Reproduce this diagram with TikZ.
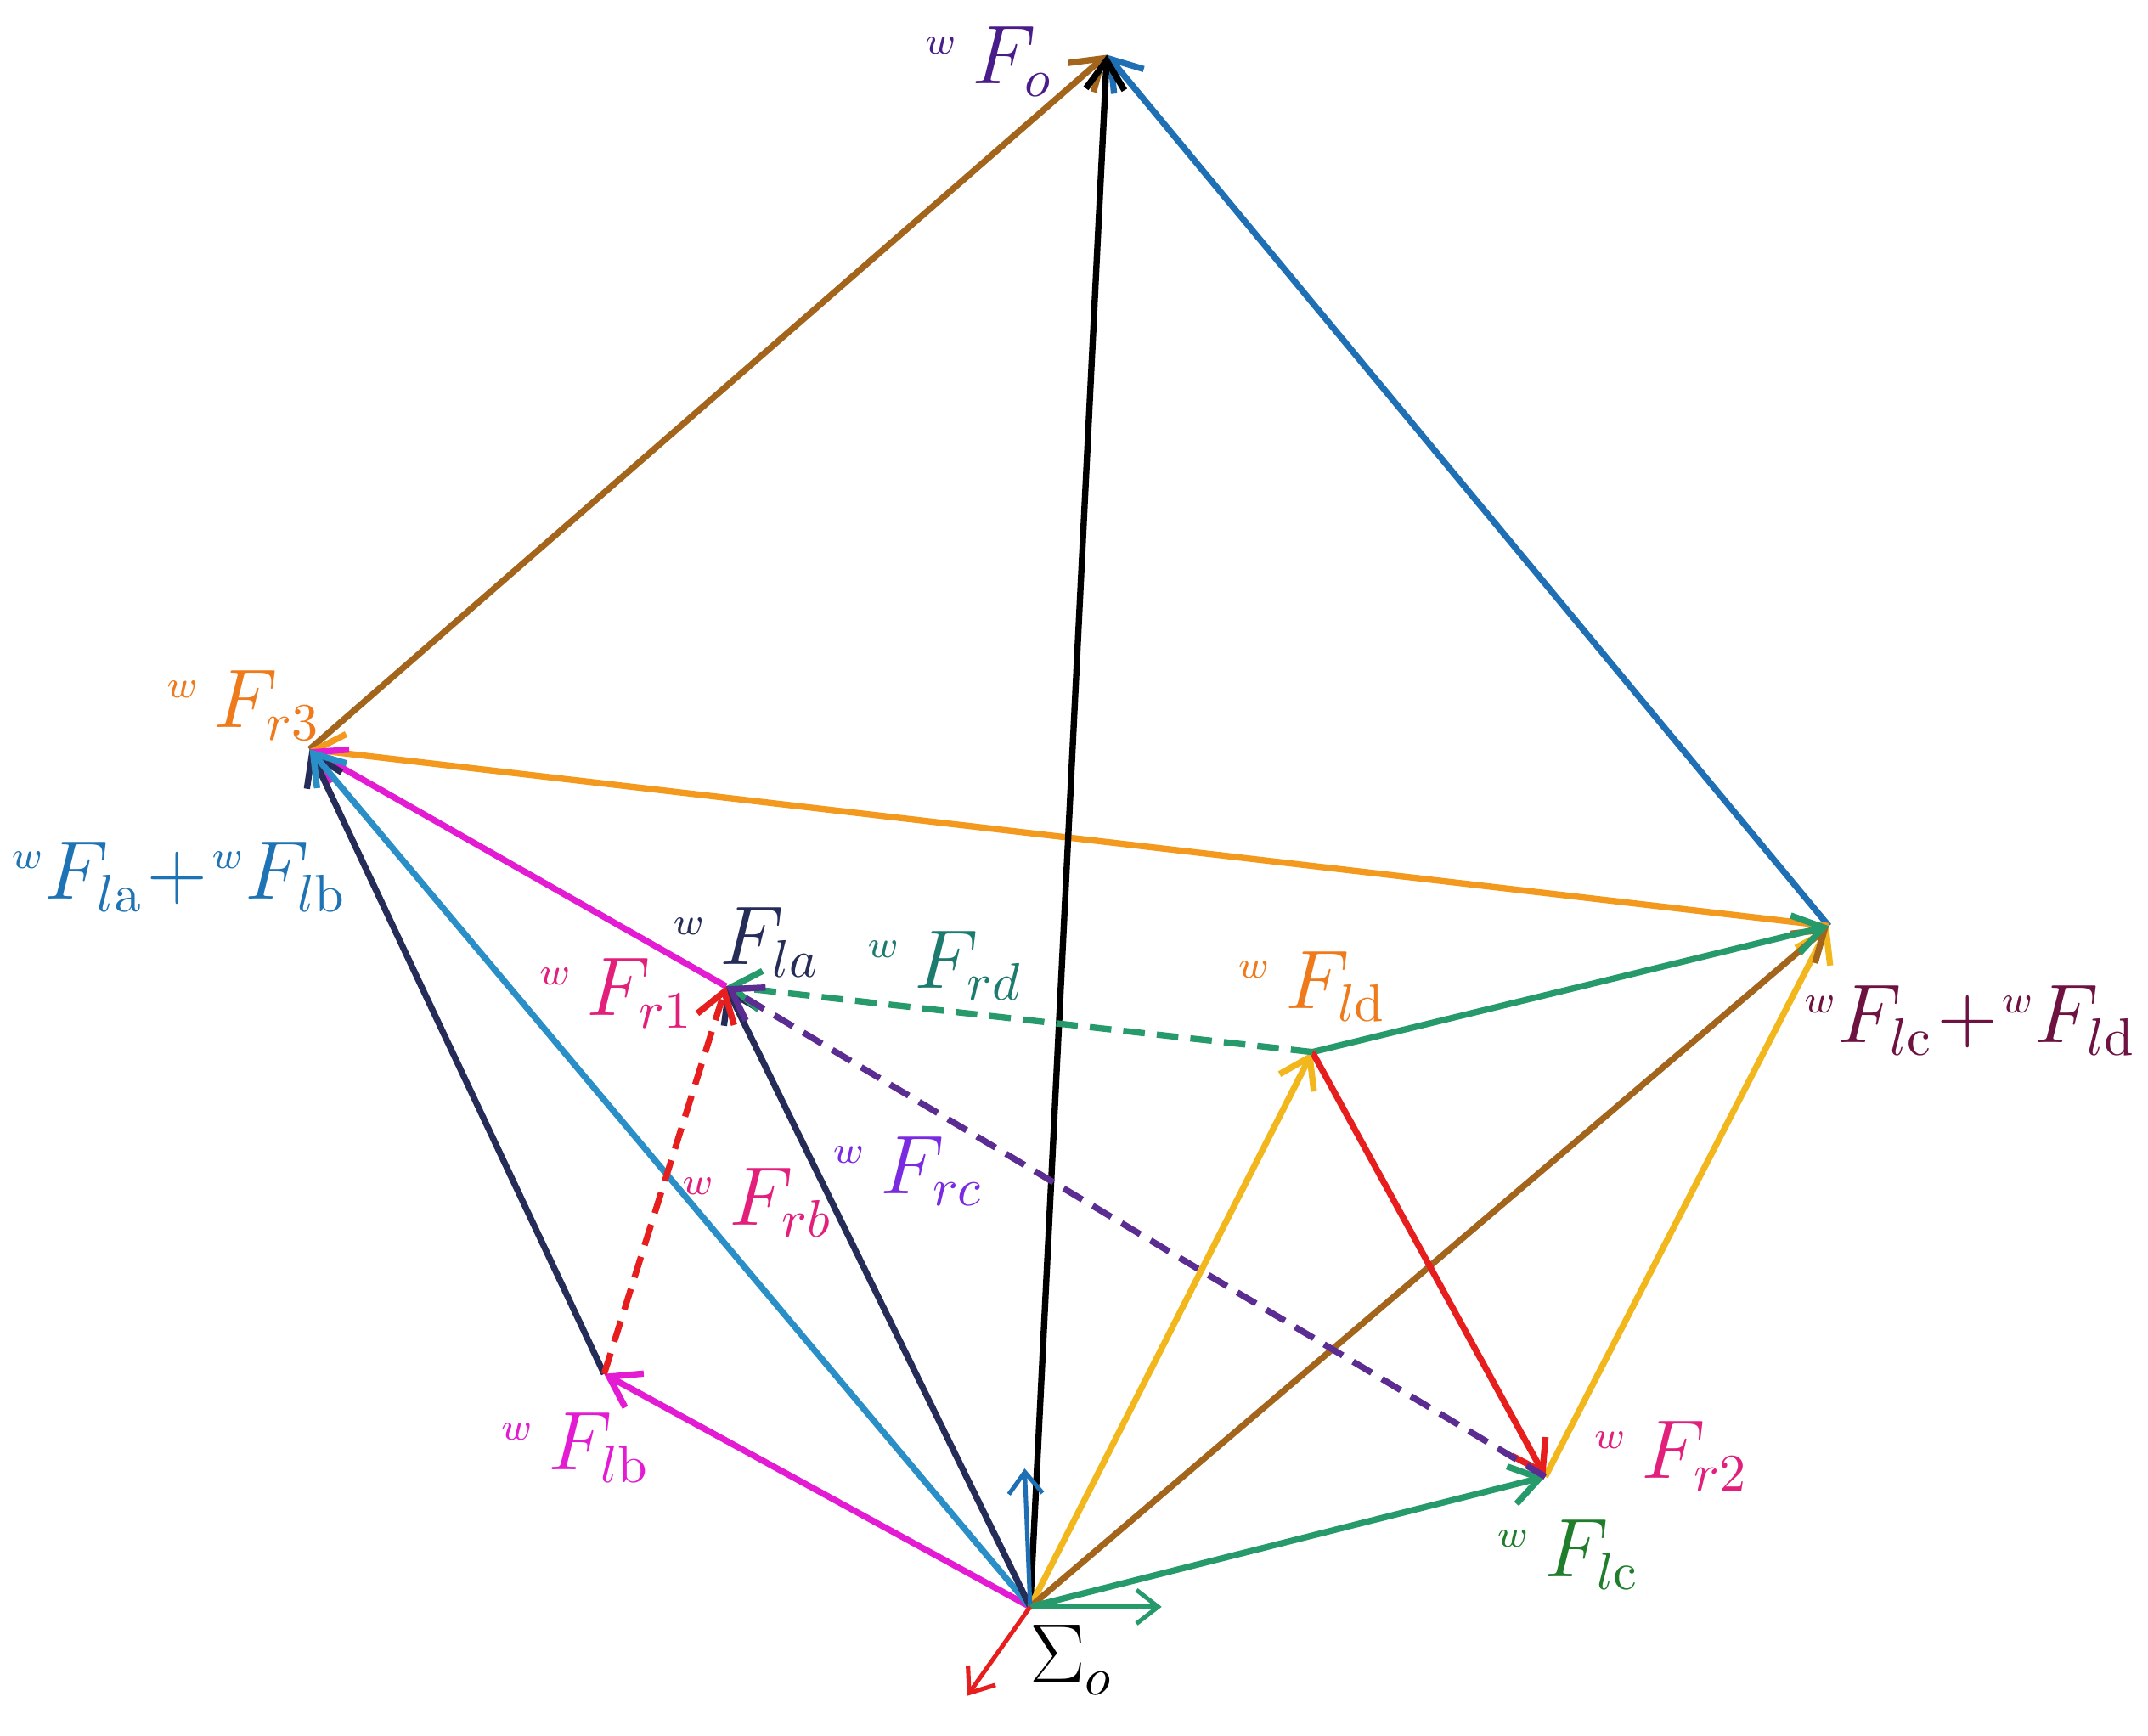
\documentclass[tikz,border=0pt]{standalone}
\usetikzlibrary{arrows.meta}
\definecolor{cBrown}{HTML}{A3641C}
\definecolor{cBlue}{HTML}{1F6FB5}
\definecolor{cOrange}{HTML}{F39A1E}
\definecolor{cMagenta}{HTML}{E31BD3}
\definecolor{cNavy}{HTML}{252C58}
\definecolor{cSky}{HTML}{2A8FC6}
\definecolor{cRed}{HTML}{E61E1E}
\definecolor{cGreen}{HTML}{279A6C}
\definecolor{cYellow}{HTML}{F3B71E}
\definecolor{cPurple}{HTML}{5B2C91}
\definecolor{tPurple}{HTML}{4A1C8A}
\definecolor{tOrange}{HTML}{EE7A1C}
\definecolor{tBlue}{HTML}{1E73B4}
\definecolor{tPink}{HTML}{E2207C}
\definecolor{tTeal}{HTML}{1C7A6E}
\definecolor{tMaroon}{HTML}{6E1242}
\definecolor{tViolet}{HTML}{7A2BE2}
\definecolor{tGreen}{HTML}{1F7D2C}
\newcommand{\wF}[1]{{}^{\scriptscriptstyle w}\,F_{#1}}
\newcommand{\wFs}[1]{{}^{\scriptscriptstyle w}F_{#1}}
\begin{document}
\begin{tikzpicture}[x=0.01cm,y=-0.01cm,
        vec/.style={line width=1.3pt,-{Straight Barb[length=6pt,width=8pt]}},
        dvec/.style={vec,dash pattern=on 4.5pt off 2.5pt},
        axis/.style={line width=0.9pt,-{Straight Barb[length=4.5pt,width=7pt]}},
        lbl/.style={font=\fontsize{16}{19}\selectfont,inner sep=0pt}]
        \useasboundingbox (0,0) rectangle (1568,1267);

        \coordinate (O) at (752,1173);
        \coordinate (Fo) at (808,40);
        \coordinate (R3) at (226,547);
        \coordinate (Scd) at (1335,676);
        \coordinate (La) at (530,720);
        \coordinate (Lb) at (441,1003);
        \coordinate (Ld) at (958,768);
        \coordinate (Lc) at (1128,1078);
        \coordinate (Ax) at (848,1173);
        \coordinate (Ay) at (748,1072);
        \coordinate (Az) at (706,1238);

        % outer polygon
        \draw[vec,cBrown] (R3) -- (Fo);
        \draw[vec,cBlue] (Scd) -- (Fo);
        \draw[vec,cOrange] (Scd) -- (R3);
        \draw[vec,black] (O) -- (Fo);

        % left side
        \draw[vec,cMagenta] (O) -- (Lb);
        \draw[vec,cMagenta] (La) -- (R3);
        \draw[vec,cNavy] (Lb) -- (R3);
        \draw[vec,cSky] (O) -- (R3);
        \draw[vec,cNavy] (O) -- (La);
        \draw[dvec,cRed] (Lb) -- (La);

        % right side
        \draw[vec,cYellow] (O) -- (Ld);
        \draw[vec,cYellow] (Lc) -- (Scd);
        \draw[vec,cBrown] (O) -- (Scd);
        \draw[vec,cGreen] (O) -- (Lc);
        \draw[vec,cGreen] (Ld) -- (Scd);
        \draw[vec,cRed] (Ld) -- (Lc);
        \draw[dvec,cGreen] (Ld) -- (La);
        \draw[dvec,cPurple] (Lc) -- (La);

        % frame
        \draw[axis,cBlue] (O) -- (Ay);
        \draw[axis,cGreen] (O) -- (Ax);
        \draw[axis,cRed] (O) -- (Az);

        \node[lbl,text=tPurple] (lFo) at (722,45) {$\wF{o}$};
        \node[lbl,text=tOrange] (lFr3) at (178,515) {$\wF{r3}$};
        \node[lbl,text=tBlue,anchor=west] (lFlab) at (8,640) {$\wFs{l\mathrm{a}}\!+\!\wFs{l\mathrm{b}}$};
        \node[lbl,text=cNavy] (lFla) at (545,688) {$\wF{la}$};
        \node[lbl,text=tPink] (lFr1) at (450,725) {$\wF{r1}$};
        \node[lbl,text=tTeal] (lFrd) at (690,705) {$\wF{rd}$};
        \node[lbl,text=tOrange] (lFld) at (958,720) {$\wF{l\mathrm{d}}$};
        \node[lbl,text=tMaroon,anchor=east] (lFlcd) at (1560,745) {$\wFs{l\mathrm{c}}\!+\!\wFs{l\mathrm{d}}$};
        \node[lbl,text=tPink] (lFrb) at (553,878) {$\wF{rb}$};
        \node[lbl,text=tViolet] (lFrc) at (663,855) {$\wF{rc}$};
        \node[lbl,text=cMagenta] (lFlb) at (420,1057) {$\wF{l\mathrm{b}}$};
        \node[lbl,text=tPink] (lFr2) at (1220,1063) {$\wF{r2}$};
        \node[lbl,text=tGreen] (lFlc) at (1145,1135) {$\wF{l\mathrm{c}}$};
        \node[lbl,text=black] (lSig) at (782,1212) {$\Sigma_{o}$};
\end{tikzpicture}
\end{document}
